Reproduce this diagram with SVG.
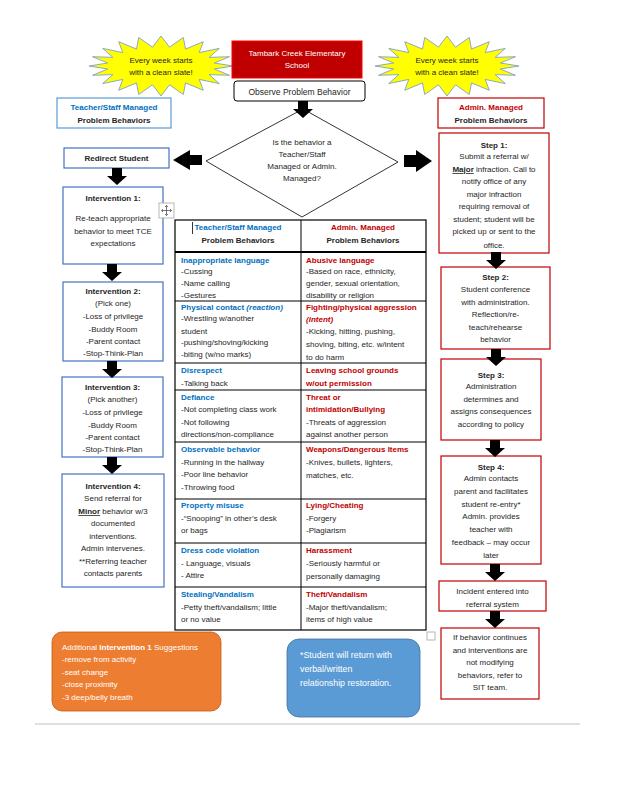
<svg xmlns="http://www.w3.org/2000/svg" width="618" height="800" viewBox="0 0 618 800">
<style>
text{font-family:"Liberation Sans",Arial,sans-serif;font-size:8px;fill:#262626}
.c{text-anchor:middle}
.b{font-weight:bold}
.bl{fill:#0070C0;font-weight:bold}
.rd{fill:#C00000;font-weight:bold}
.w{fill:#fff}
.bbox{fill:#fff;stroke:#4472C4;stroke-width:1.2}
.rbox{fill:#fff;stroke:#C00000;stroke-width:1.2}
.arr{fill:#000}
.tl{stroke:#000;stroke-width:1}
</style>
<defs>
<polygon id="star" points="72,0 53.3,3 68.5,9.3 48.1,8.6 58.3,17.6 38.2,13.4 42.3,24.3 24.5,16.9 22.3,28.5 8.5,18.8 0,30 -8.5,18.8 -22.3,28.5 -24.5,16.9 -42.3,24.3 -38.2,13.4 -58.3,17.6 -48.1,8.6 -68.5,9.3 -53.3,3 -72,0 -53.3,-3 -68.5,-9.3 -48.1,-8.6 -58.3,-17.6 -38.2,-13.4 -42.3,-24.3 -24.5,-16.9 -22.3,-28.5 -8.5,-18.8 0,-30 8.5,-18.8 22.3,-28.5 24.5,-16.9 42.3,-24.3 38.2,-13.4 58.3,-17.6 48.1,-8.6 68.5,-9.3 53.3,-3" fill="#FFFF00" stroke="#8EA9C1" stroke-width="1"/>
<path id="down" d="M-5,0 H5 V8 H10 L0,17 L-10,8 H-5 Z"/>
</defs>

<g id="star-left"><use href="#star" x="161" y="66"/>
<text class="c" x="161" y="63">Every week starts</text><text class="c" x="161" y="75">with a clean slate!</text></g>
<g id="star-right"><use href="#star" x="447" y="66"/>
<text class="c" x="447" y="63">Every week starts</text><text class="c" x="447" y="75">with a clean slate!</text></g>

<g id="title"><rect x="232" y="41" width="130" height="37" fill="#C00000" stroke="#FF0000" stroke-width="1"/>
<text class="c w" x="297" y="56">Tambark Creek Elementary</text><text class="c w" x="297" y="68">School</text></g>

<g id="observe"><rect x="234" y="81" width="131" height="20" rx="3" fill="#fff" stroke="#000" stroke-width="1"/>
<text class="c" x="299.5" y="94.5" style="font-size:8.5px">Observe Problem Behavior</text></g>

<g id="decision"><polygon points="303,109 398,162 302,217 206,161" fill="#fff" stroke="#000" stroke-width="0.8"/>
<text class="c" x="302" y="145">Is the behavior a</text><text class="c" x="302" y="157">Teacher/Staff</text><text class="c" x="302" y="169">Managed or Admin.</text><text class="c" x="302" y="181">Managed?</text></g>

<g id="teacher-head"><rect x="57" y="98" width="114" height="30" fill="#fff" stroke="#5B9BD5" stroke-width="1.2"/>
<text class="c bl" x="114" y="110">Teacher/Staff Managed</text><text class="c b" x="114" y="123">Problem Behaviors</text></g>

<g id="admin-head"><rect x="438" y="98" width="106" height="30" class="rbox"/>
<text class="c rd" x="491" y="110">Admin. Managed</text><text class="c b" x="491" y="123">Problem Behaviors</text></g>

<g id="redirect"><rect x="64" y="148" width="105" height="20" class="bbox"/>
<text class="c b" x="116.5" y="161">Redirect Student</text></g>

<g id="int1"><rect x="63" y="187" width="100" height="77" class="bbox"/>
<text class="c b" x="113" y="201">Intervention 1:</text>
<text class="c" x="113" y="221">Re-teach appropriate</text><text class="c" x="113" y="234">behavior to meet TCE</text><text class="c" x="113" y="246">expectations</text></g>

<g id="move-icon"><rect x="159" y="203" width="15" height="15" fill="#fff" stroke="#A6A6A6" stroke-width="0.8"/>
<path d="M166.5,205.5 V215.5 M161.5,210.5 H171.5 M165,207 L166.5,205.5 L168,207 M165,214 L166.5,215.5 L168,214 M163,209 L161.5,210.5 L163,212 M170,209 L171.5,210.5 L170,212" fill="none" stroke="#404040" stroke-width="0.7"/></g>

<g id="int2"><rect x="63" y="282" width="100" height="79" class="bbox"/>
<text class="c b" x="113" y="294">Intervention 2:</text>
<text class="c" x="113" y="306">(Pick one)</text><text class="c" x="113" y="319">-Loss of privilege</text><text class="c" x="113" y="332">-Buddy Room</text><text class="c" x="113" y="344">-Parent contact</text><text class="c" x="113" y="356">-Stop-Think-Plan</text></g>

<g id="int3"><rect x="62" y="377" width="101" height="80" class="bbox"/>
<text class="c b" x="112.5" y="390">Intervention 3:</text>
<text class="c" x="112.5" y="402">(Pick another)</text><text class="c" x="112.5" y="415">-Loss of privilege</text><text class="c" x="112.5" y="428">-Buddy Room</text><text class="c" x="112.5" y="440">-Parent contact</text><text class="c" x="112.5" y="452">-Stop-Think-Plan</text></g>

<g id="int4"><rect x="62" y="474" width="102" height="113" class="bbox"/>
<text class="c b" x="113" y="489">Intervention 4:</text>
<text class="c" x="113" y="501">Send referral for</text>
<text class="c" x="113" y="514"><tspan class="b" text-decoration="underline">Minor</tspan> behavior w/3</text>
<text class="c" x="113" y="526">documented</text><text class="c" x="113" y="539">interventions.</text><text class="c" x="113" y="551">Admin intervenes.</text><text class="c" x="113" y="564">**Referring teacher</text><text class="c" x="113" y="576">contacts parents</text></g>

<g id="step1"><rect x="439" y="133" width="110" height="120" class="rbox"/>
<text class="c b" x="494" y="148">Step 1:</text>
<text class="c" x="494" y="159">Submit a referral w/</text>
<text class="c" x="494" y="172"><tspan class="b" text-decoration="underline">Major</tspan> infraction. Call to</text>
<text class="c" x="494" y="184">notify office of any</text><text class="c" x="494" y="197">major infraction</text><text class="c" x="494" y="209">requiring removal of</text><text class="c" x="494" y="222">student; student will be</text><text class="c" x="494" y="234">picked up or sent to the</text><text class="c" x="494" y="248">office.</text></g>

<g id="step2"><rect x="441" y="267" width="109" height="82" class="rbox"/>
<text class="c b" x="495.5" y="280">Step 2:</text>
<text class="c" x="495.5" y="292">Student conference</text><text class="c" x="495.5" y="305">with administration.</text><text class="c" x="495.5" y="317">Reflection/re-</text><text class="c" x="495.5" y="330">teach/rehearse</text><text class="c" x="495.5" y="342">behavior</text></g>

<g id="step3"><rect x="441" y="359" width="100" height="81" class="rbox"/>
<text class="c b" x="491" y="378">Step 3:</text>
<text class="c" x="491" y="389">Administration</text><text class="c" x="491" y="402">determines and</text><text class="c" x="491" y="414">assigns consequences</text><text class="c" x="491" y="427">according to policy</text></g>

<g id="step4"><rect x="441" y="456" width="100" height="108" class="rbox"/>
<text class="c b" x="491" y="470">Step 4:</text>
<text class="c" x="491" y="481">Admin contacts</text><text class="c" x="491" y="494">parent and facilitates</text><text class="c" x="491" y="507">student re-entry*</text><text class="c" x="491" y="519">Admin. provides</text><text class="c" x="491" y="532">teacher with</text><text class="c" x="491" y="545">feedback – may occur</text><text class="c" x="491" y="558">later</text></g>

<g id="incident"><rect x="439" y="581" width="107" height="30" class="rbox"/>
<text class="c" x="492.5" y="594">Incident entered into</text><text class="c" x="492.5" y="607">referral system</text></g>

<g id="sit"><rect x="441" y="628" width="98" height="71" class="rbox"/>
<text class="c" x="490" y="640">If behavior continues</text><text class="c" x="490" y="653">and interventions are</text><text class="c" x="490" y="665">not modifying</text><text class="c" x="490" y="678">behaviors, refer to</text><text class="c" x="490" y="690">SIT team.</text></g>

<g id="table">
<rect x="175" y="220" width="251" height="410" fill="#fff" stroke="#000" stroke-width="1.2"/>
<line class="tl" x1="301" y1="220" x2="301" y2="630"/>
<line x1="175" y1="252" x2="426" y2="252" stroke="#000" stroke-width="2"/>
<line class="tl" x1="175" y1="301" x2="426" y2="301"/>
<line class="tl" x1="175" y1="363" x2="426" y2="363"/>
<line class="tl" x1="175" y1="390" x2="426" y2="390"/>
<line class="tl" x1="175" y1="442" x2="426" y2="442"/>
<line class="tl" x1="175" y1="499" x2="426" y2="499"/>
<line class="tl" x1="175" y1="543" x2="426" y2="543"/>
<line class="tl" x1="175" y1="587" x2="426" y2="587"/>
<line x1="192.5" y1="222" x2="192.5" y2="234" stroke="#000" stroke-width="0.8"/>
<text class="c bl" x="238" y="230">Teacher/Staff Managed</text><text class="c b" x="238" y="243">Problem Behaviors</text>
<text class="c rd" x="363" y="230">Admin. Managed</text><text class="c b" x="363" y="243">Problem Behaviors</text>

<text class="bl" x="181" y="263">Inappropriate language</text>
<text x="181" y="274">-Cussing</text><text x="181" y="286">-Name calling</text><text x="181" y="298">-Gestures</text>
<text class="rd" x="306" y="263">Abusive language</text>
<text x="306" y="274">-Based on race, ethnicity,</text><text x="306" y="286">gender, sexual orientation,</text><text x="306" y="298">disability or religion</text>

<text class="bl" x="181" y="310">Physical contact <tspan font-style="italic">(reaction)</tspan></text>
<text x="181" y="321">-Wrestling w/another</text><text x="181" y="334">student</text><text x="181" y="345">-pushing/shoving/kicking</text><text x="181" y="357">-biting (w/no marks)</text>
<text class="rd" x="306" y="310">Fighting/physical aggression</text>
<text class="rd" x="306" y="322" font-style="italic">(intent)</text>
<text x="306" y="334">-Kicking, hitting, pushing,</text><text x="306" y="347">shoving, biting, etc. w/intent</text><text x="306" y="360">to do harm</text>

<text class="bl" x="181" y="373">Disrespect</text>
<text x="181" y="386">-Talking back</text>
<text class="rd" x="306" y="373">Leaving school grounds</text>
<text class="rd" x="306" y="386">w/out permission</text>

<text class="bl" x="181" y="400">Defiance</text>
<text x="181" y="412">-Not completing class work</text><text x="181" y="425">-Not following</text><text x="181" y="437">directions/non-compliance</text>
<text class="rd" x="306" y="400">Threat or</text>
<text class="rd" x="306" y="412">intimidation/Bullying</text>
<text x="306" y="425">-Threats of aggression</text><text x="306" y="437">against another person</text>

<text class="bl" x="181" y="452">Observable behavior</text>
<text x="181" y="465">-Running in the hallway</text><text x="181" y="477">-Poor line behavior</text><text x="181" y="490">-Throwing food</text>
<text class="rd" x="306" y="452">Weapons/Dangerous Items</text>
<text x="306" y="465">-Knives, bullets, lighters,</text><text x="306" y="478">matches, etc.</text>

<text class="bl" x="181" y="508">Property misuse</text>
<text x="181" y="521">-“Snooping” in other’s desk</text><text x="181" y="533">or bags</text>
<text class="rd" x="306" y="508">Lying/Cheating</text>
<text x="306" y="521">-Forgery</text><text x="306" y="533">-Plagiarism</text>

<text class="bl" x="181" y="553">Dress code violation</text>
<text x="181" y="566">- Language, visuals</text><text x="181" y="578">- Attire</text>
<text class="rd" x="306" y="553">Harassment</text>
<text x="306" y="566">-Seriously harmful or</text><text x="306" y="579">personally damaging</text>

<text class="bl" x="181" y="597">Stealing/Vandalism</text>
<text x="181" y="610">-Petty theft/vandalism; little</text><text x="181" y="622">or no value</text>
<text class="rd" x="306" y="597">Theft/Vandalism</text>
<text x="306" y="610">-Major theft/vandalism;</text><text x="306" y="622">items of high value</text>
</g>

<g id="orange-note"><rect x="52" y="632" width="169" height="79" rx="10" fill="#ED7D31" stroke="#C55A11" stroke-width="0.8"/>
<text class="w" x="62" y="650">Additional <tspan font-weight="bold">Intervention 1</tspan> Suggestions</text>
<text class="w" x="62" y="662">-remove from activity</text><text class="w" x="62" y="675">-seat change</text><text class="w" x="62" y="687">-close proximity</text><text class="w" x="62" y="700">-3 deep/belly breath</text></g>

<g id="blue-note"><rect x="287" y="639" width="133" height="78" rx="12" fill="#5B9BD5" stroke="#41719C" stroke-width="0.8"/>
<text class="w" x="300" y="658" style="font-size:8.8px">*Student will return with</text>
<text class="w" x="300" y="672" style="font-size:8.8px">verbal/written</text>
<text class="w" x="300" y="686" style="font-size:8.8px">relationship restoration.</text></g>

<g id="handle"><rect x="427" y="632" width="8" height="8" fill="#fff" stroke="#A6A6A6" stroke-width="0.8"/></g>

<g id="connectors">
<use href="#down" class="arr" x="303" y="101"/>
<path class="arr" d="M202,155 H190 V150 L173,160 L190,170 V165 H202 Z"/>
<path class="arr" d="M404,155 H416 V150 L432,161 L416,172 V167 H404 Z"/>
<use href="#down" class="arr" x="117" y="168"/>
<use href="#down" class="arr" x="112" y="264"/>
<use href="#down" class="arr" x="112" y="361"/>
<use href="#down" class="arr" x="112" y="457"/>
<use href="#down" class="arr" x="496" y="252"/>
<use href="#down" class="arr" x="496" y="349"/>
<use href="#down" class="arr" x="495" y="440"/>
<use href="#down" class="arr" x="495" y="564"/>
<use href="#down" class="arr" x="495" y="611"/>
</g>

<line x1="35" y1="724" x2="580" y2="724" stroke="#BFBFBF" stroke-width="1"/>
</svg>
